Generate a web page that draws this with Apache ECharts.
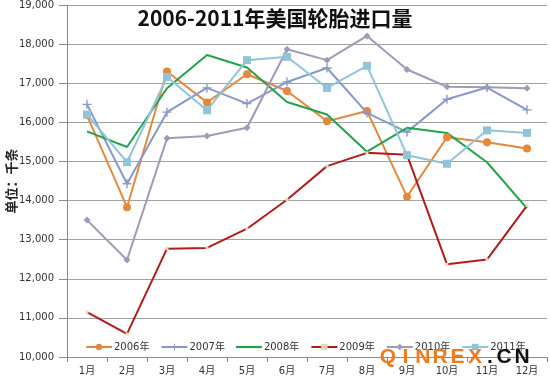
<!DOCTYPE html>
<html>
<head>
<meta charset="utf-8">
<script src="https://cdn.jsdelivr.net/npm/echarts@6/dist/echarts.min.js"></script>
<style>html,body{margin:0;padding:0;background:#fff;}#c{width:550px;height:380px;}</style>
</head>
<body>
<div id="c"></div>
<script>
var months = ['1月','2月','3月','4月','5月','6月','7月','8月','9月','10月','11月','12月'];
var seriesNames = ['2006年','2007年','2008年','2009年','2010年','2011年'];
var y2006 = [16180, 13830, 17300, 16510, 17230, 16800, 16030, 16290, 14100, 15620, 15490, 15330];
var y2007 = [16460, 14430, 16260, 16880, 16480, 17030, 17390, 16240, 15750, 16590, 16890, 16320];
var y2008 = [15770, 15370, 16870, 17720, 17400, 16520, 16200, 15250, 15860, 15730, 14980, 13800];
var y2009 = [11150, 10590, 12770, 12790, 13280, 14020, 14880, 15220, 15170, 12370, 12490, 13870];
var y2010 = [13500, 12480, 15590, 15650, 15860, 17870, 17590, 18210, 17350, 16910, 16900, 16870];
var y2011 = [16200, 14980, 17160, 16310, 17590, 17675, 16880, 17445, 15160, 14940, 15795, 15730];
var yTicks = {min: 10000, max: 19000, step: 1000};

var colors = ['#e3893f', '#8799cb', '#22a24e', '#b31a1a', '#9e9bb8', '#92c3d6'];
var plusPath = 'path://M3.4,0h1.2v3.4h3.4v1.2h-3.4v3.4h-1.2v-3.4h-3.4v-1.2h3.4z';

var chart = echarts.init(document.getElementById('c'), null, {renderer: 'canvas'});
var lblFont = 'DejaVu Sans, Noto Sans CJK SC, sans-serif';

function mk(name, data, color, symbol, size, symColor) {
  return {
    name: name, type: 'line', data: data,
    symbol: symbol, symbolSize: size, showSymbol: symbol !== 'none',
    lineStyle: {color: color, width: 2},
    itemStyle: {color: symColor || color},
    emphasis: {disabled: true},
    animation: false, z: 3
  };
}

var wmFont = 'bold 21px Liberation Sans, Arial, sans-serif';
var wmLetters = ['Q','I','N','R','E','X'];
var graphics = [];
for (var i = 0; i < wmLetters.length; i++) {
  graphics.push({type: 'text', x: 388 + i * 17.4, y: 347, z: 100,
    style: {text: wmLetters[i], fill: '#f07a1e', font: wmFont, textAlign: 'center'}});
}
var cnParts = [['.', 490], ['C', 504], ['N', 522]];
for (var j = 0; j < cnParts.length; j++) {
  graphics.push({type: 'text', x: cnParts[j][1], y: 347, z: 100,
    style: {text: cnParts[j][0], fill: '#111', font: wmFont, textAlign: 'center'}});
}

var legendData = seriesNames.map(function (n, k) {
  return k === 2 ? {name: n, icon: 'path://M0,0h26v2.2h-26z'} : {name: n};
});

chart.setOption({
  backgroundColor: '#ffffff',
  animation: false,
  title: {
    text: '2006-2011年美国轮胎进口量',
    left: 'center', top: 3,
    textStyle: {fontFamily: 'Noto Sans CJK SC, sans-serif', fontWeight: 'bold', fontSize: 21, color: '#111'}
  },
  grid: {left: 67, right: 3, top: 5, bottom: 23, containLabel: false, outerBoundsMode: 'none'},
  legend: {
    data: legendData, left: 80, top: 337, itemWidth: 26, itemHeight: 8, itemGap: 11,
    textStyle: {fontFamily: lblFont, fontSize: 10, color: '#333', padding: [0, 0, 0, -3]}
  },
  xAxis: {
    type: 'category', data: months, boundaryGap: true,
    axisLine: {lineStyle: {color: '#8a8a8a', width: 1}},
    axisTick: {show: true, length: 5, lineStyle: {color: '#8a8a8a'}},
    axisLabel: {fontFamily: lblFont, fontSize: 10, color: '#333', margin: 9}
  },
  yAxis: {
    type: 'value', min: yTicks.min, max: yTicks.max, interval: yTicks.step,
    name: '单位：千条', nameLocation: 'middle', nameRotate: 90, nameGap: 49, nameMoveOverlap: false,
    nameTextStyle: {fontFamily: 'Noto Sans CJK SC, sans-serif', fontWeight: 'bold', fontSize: 13, color: '#222'},
    axisLine: {show: true, lineStyle: {color: '#8a8a8a', width: 1}},
    axisTick: {show: true, length: 8, lineStyle: {color: '#8a8a8a'}},
    splitLine: {lineStyle: {color: '#a3a3a3', width: 1}},
    axisLabel: {fontFamily: lblFont, fontSize: 10, color: '#333', margin: 13,
      formatter: function (v) { return v.toLocaleString('en-US'); }}
  },
  series: [
    mk(seriesNames[0], y2006, colors[0], 'circle', 8),
    mk(seriesNames[1], y2007, colors[1], plusPath, 9),
    mk(seriesNames[2], y2008, colors[2], 'none', 0),
    mk(seriesNames[3], y2009, colors[3], 'rect', 3, '#e2dab4'),
    mk(seriesNames[4], y2010, colors[4], 'diamond', 7),
    mk(seriesNames[5], y2011, colors[5], 'rect', 8)
  ],
  graphic: graphics
});
</script>
</body>
</html>
